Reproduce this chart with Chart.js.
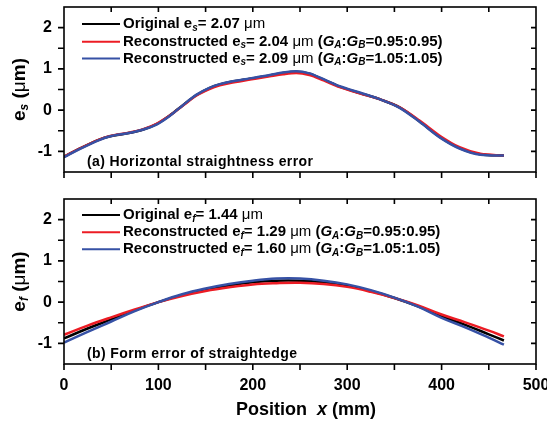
<!DOCTYPE html>
<html>
<head>
<meta charset="utf-8">
<script src="https://cdn.jsdelivr.net/npm/chart.js@4.4.1/dist/chart.umd.min.js"></script>
<style>
  html, body { margin: 0; padding: 0; background: #fff; }
  #wrap { position: relative; width: 547px; height: 425px; }
  #top { position: absolute; left: 0; top: 0; }
  #bot { position: absolute; left: 0; top: 190px; }
</style>
</head>
<body>
<div id="wrap">
  <canvas id="top" width="547" height="190"></canvas>
  <canvas id="bot" width="547" height="235"></canvas>
</div>
<script>
// (a) horizontal straightness error, position in mm, e_s in um
let posS = [0, 17, 38, 48, 70, 84, 98, 112, 126, 140, 154, 165, 176, 197, 218, 232, 246, 260, 275, 292, 314, 335, 356, 377, 398, 419, 441, 466]
let origS = [-1.13, -0.93, -0.71, -0.64, -0.55, -0.47, -0.34, -0.13, 0.12, 0.36, 0.53, 0.62, 0.68, 0.76, 0.84, 0.90, 0.93, 0.88, 0.74, 0.57, 0.41, 0.26, 0.06, -0.28, -0.65, -0.92, -1.07, -1.10]
let lowS = [-1.13, -0.93, -0.71, -0.63, -0.54, -0.46, -0.33, -0.13, 0.11, 0.35, 0.51, 0.60, 0.66, 0.74, 0.82, 0.87, 0.90, 0.85, 0.72, 0.56, 0.40, 0.26, 0.06, -0.26, -0.62, -0.90, -1.06, -1.10]
let highS = [-1.14, -0.94, -0.72, -0.64, -0.55, -0.47, -0.35, -0.14, 0.12, 0.37, 0.54, 0.63, 0.69, 0.77, 0.85, 0.91, 0.94, 0.89, 0.75, 0.58, 0.42, 0.26, 0.05, -0.29, -0.66, -0.93, -1.08, -1.10]

// (b) form error of straightedge, e_f in um
let posF = [0, 25, 50, 75, 100, 125, 150, 175, 200, 225, 250, 275, 300, 325, 350, 375, 400, 425, 450, 466]
let origF = [-0.88, -0.64, -0.42, -0.20, 0.00, 0.17, 0.30, 0.40, 0.48, 0.52, 0.52, 0.48, 0.40, 0.27, 0.10, -0.10, -0.34, -0.55, -0.78, -0.93]
let lowF = [-0.79, -0.57, -0.37, -0.18, 0.00, 0.15, 0.27, 0.36, 0.43, 0.46, 0.47, 0.44, 0.37, 0.25, 0.10, -0.08, -0.30, -0.49, -0.69, -0.83]
let highF = [-0.98, -0.72, -0.47, -0.22, 0.00, 0.19, 0.33, 0.44, 0.52, 0.57, 0.57, 0.52, 0.43, 0.29, 0.11, -0.11, -0.38, -0.61, -0.86, -1.03]

let xTickLabels = [0, 100, 200, 300, 400, 500]
let yTickLabels = [-1, 0, 1, 2]
let colors = ["#000000", "#ec1c24", "#3651a5"]
let drawOrder = [2, 1, 0] // blue on top, then red, black underneath

const FF = '"Liberation Sans", Arial, sans-serif'
const B = { f: 'bold 15px ' + FF, dy: 0 }
const N = { f: '15px ' + FF, dy: 0 }
const BI = { f: 'italic bold 15px ' + FF, dy: 0 }
const SUB = { f: 'italic bold 10px ' + FF, dy: 4 }

let legendS = [
  [["Original e", B], ["s", SUB], ["= 2.07 ", B], ["\u03bcm", N]],
  [["Reconstructed e", B], ["s", SUB], ["= 2.04 ", B], ["\u03bcm", N], [" (", B], ["G", BI], ["A", SUB], [":", B], ["G", BI], ["B", SUB], ["=0.95:0.95)", B]],
  [["Reconstructed e", B], ["s", SUB], ["= 2.09 ", B], ["\u03bcm", N], [" (", B], ["G", BI], ["A", SUB], [":", B], ["G", BI], ["B", SUB], ["=1.05:1.05)", B]]
]
let legendF = [
  [["Original e", B], ["f", SUB], ["= 1.44 ", B], ["\u03bcm", N]],
  [["Reconstructed e", B], ["f", SUB], ["= 1.29 ", B], ["\u03bcm", N], [" (", B], ["G", BI], ["A", SUB], [":", B], ["G", BI], ["B", SUB], ["=0.95:0.95)", B]],
  [["Reconstructed e", B], ["f", SUB], ["= 1.60 ", B], ["\u03bcm", N], [" (", B], ["G", BI], ["A", SUB], [":", B], ["G", BI], ["B", SUB], ["=1.05:1.05)", B]]
]

function richWidth(ctx, parts) {
  let w = 0
  parts.forEach(p => { ctx.font = p[1].f; w += ctx.measureText(p[0]).width })
  return w
}

function drawRich(ctx, parts, x, y) {
  parts.forEach(p => {
    ctx.font = p[1].f
    ctx.fillText(p[0], x, y + p[1].dy)
    x += ctx.measureText(p[0]).width
  })
}

function toPoints(xs, ys) {
  return xs.map((x, i) => ({ x: x, y: ys[i] }))
}

function panelPlugin(cfg) {
  return {
    id: 'panel',
    afterDraw(chart) {
      const ctx = chart.ctx
      const a = chart.chartArea
      const xs = chart.scales.x
      const ys = chart.scales.y
      ctx.save()
      ctx.strokeStyle = '#000'
      ctx.lineWidth = 1.6
      ctx.strokeRect(a.left, a.top, a.right - a.left, a.bottom - a.top)
      ctx.beginPath()
      xs.ticks.forEach(t => {
        const px = xs.getPixelForValue(t.value)
        ctx.moveTo(px, a.bottom); ctx.lineTo(px, a.bottom + 6)
        if (t.value > 0 && t.value < 500) { ctx.moveTo(px, a.top); ctx.lineTo(px, a.top + 5) }
      })
      ys.ticks.forEach(t => {
        if (t.value <= -1.5 || t.value >= 2.5) return
        const py = ys.getPixelForValue(t.value)
        ctx.moveTo(a.left, py); ctx.lineTo(a.left - 6, py)
        ctx.moveTo(a.right, py); ctx.lineTo(a.right - 5, py)
      })
      ctx.stroke()

      // legend
      ctx.fillStyle = '#000'
      ctx.textBaseline = 'middle'
      ctx.textAlign = 'left'
      cfg.legend.forEach((row, i) => {
        const y = cfg.legendY[i]
        ctx.strokeStyle = colors[i]
        ctx.lineWidth = 2
        ctx.beginPath(); ctx.moveTo(82, y); ctx.lineTo(120, y); ctx.stroke()
        drawRich(ctx, row, 123, y)
      })

      // panel caption
      ctx.font = 'bold 14px ' + FF
      ctx.letterSpacing = '0.4px'
      ctx.fillText(cfg.caption, 87, cfg.captionY)
      ctx.letterSpacing = '0px'

      // y axis title
      const yt = [["e", { f: 'bold 19px ' + FF, dy: 0 }], [cfg.sub, { f: 'italic bold 12px ' + FF, dy: 5 }], [" (", { f: 'bold 19px ' + FF, dy: 0 }], ["\u03bc", { f: '19px ' + FF, dy: 0 }], ["m)", { f: 'bold 19px ' + FF, dy: 0 }]]
      ctx.save()
      ctx.translate(20, (a.top + a.bottom) / 2)
      ctx.rotate(-Math.PI / 2)
      drawRich(ctx, yt, -richWidth(ctx, yt) / 2, 0)
      ctx.restore()

      // x axis title
      if (cfg.xTitle) {
        const xt = [["Position  ", { f: 'bold 18px ' + FF, dy: 0 }], ["x", { f: 'italic bold 18px ' + FF, dy: 0 }], [" (mm)", { f: 'bold 18px ' + FF, dy: 0 }]]
        const cx = (a.left + a.right) / 2 + 6
        drawRich(ctx, xt, cx - richWidth(ctx, xt) / 2, 220)
      }
      ctx.restore()
    }
  }
}

function makeChart(id, xs, series, cfg) {
  new Chart(id, {
    type: 'line',
    data: {
      datasets: series.map((s, i) => ({
        data: toPoints(xs, s),
        borderColor: colors[i],
        borderWidth: 2.5,
        pointRadius: 0,
        cubicInterpolationMode: cfg.interp,
        tension: 0.4,
        order: drawOrder[i],
        fill: false
      }))
    },
    options: {
      responsive: false,
      animation: false,
      devicePixelRatio: 1,
      layout: { padding: { top: cfg.padTop, right: 11, left: 0, bottom: 0 } },
      plugins: { legend: { display: false }, tooltip: { enabled: false } },
      scales: {
        x: {
          type: 'linear',
          min: 0, max: 500,
          grid: { display: false, drawTicks: false },
          border: { display: false },
          ticks: {
            display: cfg.xLabels,
            stepSize: 50,
            autoSkip: false,
            maxRotation: 0,
            padding: 12,
            color: '#000',
            font: { family: FF, size: 16, weight: 'bold' },
            callback: v => xTickLabels.includes(v) ? String(v) : ''
          },
          afterFit: s => { s.height = cfg.xHeight; s.paddingLeft = 0; s.paddingRight = 0 }
        },
        y: {
          min: -1.5, max: 2.5,
          grid: { display: false, drawTicks: false },
          border: { display: false },
          ticks: {
            stepSize: 0.5,
            autoSkip: false,
            padding: 12,
            color: '#000',
            font: { family: FF, size: 16, weight: 'bold' },
            callback: v => yTickLabels.includes(v) ? String(v) : ''
          },
          afterFit: s => { s.width = 64; s.paddingTop = 0; s.paddingBottom = 0 }
        }
      }
    },
    plugins: [panelPlugin(cfg)]
  })
}

makeChart('top', posS, [origS, lowS, highS], {
  padTop: 7, xHeight: 18, xLabels: false, interp: 'monotone',
  legend: legendS, legendY: [24, 41.7, 58.5],
  caption: '(a) Horizontal straightness error', captionY: 162,
  sub: 's', xTitle: false
})

makeChart('bot', posF, [origF, lowF, highF], {
  padTop: 9, xHeight: 61, xLabels: true, interp: 'default',
  legend: legendF, legendY: [25, 42.3, 59.3],
  caption: '(b) Form error of straightedge', captionY: 164,
  sub: 'f', xTitle: true
})
</script>
</body>
</html>
